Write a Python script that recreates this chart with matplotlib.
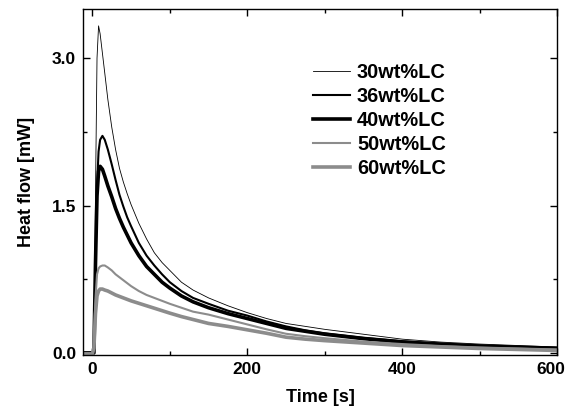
import matplotlib
matplotlib.use("Agg")
import matplotlib.pyplot as plt
import matplotlib.transforms as mtransforms
from matplotlib.ticker import MultipleLocator

# ================= DATA =================
time_s = [-12, 0, 2, 4, 6, 8, 10, 13, 16, 20, 25, 30, 35, 40, 45, 50, 60, 70, 80, 90, 100,
          115, 130, 150, 175, 200, 225, 250, 275, 300, 350, 400, 450, 500, 550, 600]

hf_30 = [0.0, 0.0, 0.02, 1.6, 3.0, 3.33, 3.25, 3.05, 2.85, 2.58, 2.30, 2.07, 1.88, 1.74,
         1.62, 1.51, 1.32, 1.16, 1.02, 0.92, 0.84, 0.72, 0.64, 0.56, 0.48, 0.41, 0.35,
         0.30, 0.27, 0.24, 0.19, 0.14, 0.11, 0.09, 0.075, 0.06]
hf_36 = [0.0, 0.0, 0.0, 0.9, 1.7, 2.05, 2.17, 2.21, 2.17, 2.07, 1.92, 1.76, 1.61, 1.49,
         1.38, 1.29, 1.12, 0.99, 0.89, 0.80, 0.72, 0.63, 0.56, 0.50, 0.43, 0.38, 0.32,
         0.27, 0.23, 0.20, 0.155, 0.12, 0.095, 0.075, 0.062, 0.05]
hf_40 = [0.0, 0.0, 0.0, 0.9, 1.6, 1.85, 1.90, 1.87, 1.80, 1.70, 1.59, 1.47, 1.37, 1.28,
         1.20, 1.12, 0.99, 0.88, 0.80, 0.72, 0.66, 0.58, 0.52, 0.46, 0.40, 0.35, 0.30,
         0.25, 0.22, 0.19, 0.145, 0.11, 0.088, 0.07, 0.058, 0.047]
hf_50 = [-0.01, -0.01, 0.05, 0.55, 0.80, 0.86, 0.88, 0.89, 0.89, 0.87, 0.84, 0.80, 0.77,
         0.74, 0.71, 0.68, 0.63, 0.59, 0.56, 0.53, 0.50, 0.46, 0.42, 0.39, 0.34, 0.29,
         0.24, 0.195, 0.17, 0.15, 0.115, 0.09, 0.07, 0.055, 0.045, 0.035]
hf_60 = [-0.01, -0.01, 0.05, 0.40, 0.58, 0.63, 0.65, 0.65, 0.64, 0.63, 0.61, 0.59, 0.575,
         0.56, 0.545, 0.53, 0.505, 0.48, 0.455, 0.43, 0.405, 0.37, 0.34, 0.30, 0.27,
         0.235, 0.20, 0.16, 0.14, 0.125, 0.10, 0.075, 0.06, 0.045, 0.035, 0.025]

labels = ["30wt%LC", "36wt%LC", "40wt%LC", "50wt%LC", "60wt%LC"]
series = [hf_30, hf_36, hf_40, hf_50, hf_60]
xticks = [0, 200, 400, 600]
xticklabels = ["0", "200", "400", "600"]

# ================= STYLE =================
colors = ["black", "black", "black", "#8c8c8c", "#8c8c8c"]
widths = [0.6, 1.5, 2.6, 1.5, 2.6]

plt.rcParams.update({'font.family': 'Liberation Sans', 'font.weight': 'bold'})

fig = plt.figure(figsize=(5.69, 4.17), dpi=100)
ax = fig.add_axes([0.146, 0.149, 0.833, 0.829])

for y, lab, c, lw in zip(series, labels, colors, widths):
    ax.plot(time_s, y, color=c, lw=lw, label=lab)

ax.set_xlim(-12, 600)
ax.set_ylim(-0.02, 3.5)
ax.set_xticks(xticks)
ax.set_xticklabels(xticklabels)
ax.xaxis.set_minor_locator(MultipleLocator(100))
ax.yaxis.set_major_locator(MultipleLocator(1.5))
ax.yaxis.set_minor_locator(MultipleLocator(0.75))
ax.yaxis.set_major_formatter(plt.FormatStrFormatter('%.1f'))
ax.tick_params(which='both', direction='in', top=True, right=True, width=1.0,
               labelsize=12.5)
ax.tick_params(which='major', length=5, pad=5)
ax.tick_params(which='minor', length=3)
for s in ax.spines.values():
    s.set_linewidth(1.0)

ax.set_xlabel("Time [s]", fontsize=13, fontweight='bold', labelpad=9)
ax.set_ylabel("Heat flow [mW]", fontsize=13, fontweight='bold', labelpad=12)

# keep the "600" label inside the canvas (nudge a few pixels left)
fig.canvas.draw()
last = ax.xaxis.get_major_ticks()[-1].label1
last.set_transform(last.get_transform() +
                   mtransforms.ScaledTranslation(-6 / 100, 0, fig.dpi_scale_trans))

leg = ax.legend(loc='upper left', bbox_to_anchor=(0.550, 0.848),
                bbox_transform=fig.transFigure, frameon=False, borderpad=0,
                borderaxespad=0, fontsize=14.4, handlelength=1.85,
                handletextpad=0.35, labelspacing=0.24)

fig.savefig("out.png", dpi=100)
